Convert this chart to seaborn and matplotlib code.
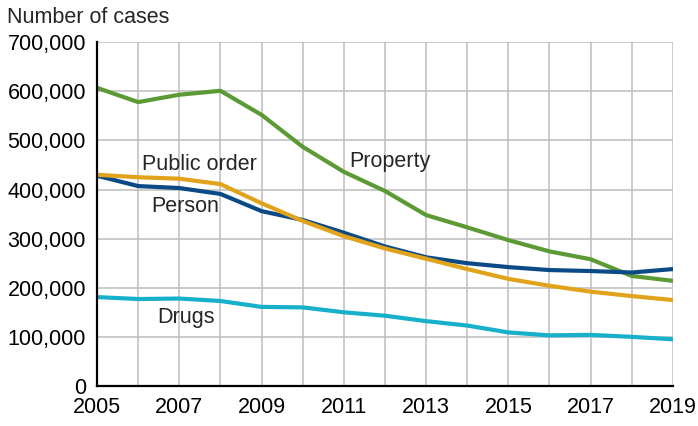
import numpy as np
import pandas as pd
import matplotlib
matplotlib.use("Agg")
import matplotlib.pyplot as plt
import seaborn as sns
from matplotlib.ticker import FuncFormatter

# data
years = list(range(2005, 2020))
property_cases = [607000, 578000, 593000, 601000, 552000, 487000, 436000, 397000,
                  348000, 323000, 297000, 274000, 258000, 224000, 214000]
person_cases = [428000, 407000, 403000, 391000, 356000, 338000, 312000, 284000,
                262000, 250000, 242000, 236000, 234000, 231000, 238000]
public_order_cases = [430000, 425000, 422000, 411000, 372000, 336000, 305000, 280000,
                      259000, 238000, 218000, 204000, 192000, 183000, 175000]
drugs_cases = [181000, 177000, 178000, 173000, 161000, 160000, 150000, 143000,
               132000, 123000, 109000, 103000, 104000, 100000, 95000]

df = pd.DataFrame({"year": years, "Property": property_cases, "Person": person_cases,
                   "Public order": public_order_cases, "Drugs": drugs_cases})
df = df.melt(id_vars="year", var_name="offence", value_name="cases")

colors = {"Property": "#5b9a34", "Person": "#0b4a86",
          "Public order": "#e1a31b", "Drugs": "#17b0cb"}

sns.set_style("white")
plt.rcParams["font.family"] = ["Liberation Sans", "DejaVu Sans"]

fig = plt.figure(figsize=(6.98, 4.26), dpi=100)
ax = fig.add_axes([0.139, 0.094, 0.825, 0.807])

sns.lineplot(data=df, x="year", y="cases", hue="offence", palette=colors,
             linewidth=3, legend=False, ax=ax)

ax.set_xlim(2005, 2019)
ax.set_ylim(0, 700000)
ax.set_xticks(range(2005, 2020))
ax.set_xticklabels([str(y) if (y - 2005) % 2 == 0 else "" for y in range(2005, 2020)])
ax.set_yticks(range(0, 700001, 100000))
ax.yaxis.set_major_formatter(FuncFormatter(lambda v, p: f"{int(v):,}"))
ax.grid(True, color="#bdbdbd", linewidth=1.1)
ax.set_axisbelow(True)
for s in ["top", "right"]:
    ax.spines[s].set_visible(False)
for s in ["left", "bottom"]:
    ax.spines[s].set_color("black")
    ax.spines[s].set_linewidth(1.6)
ax.tick_params(axis="both", direction="out", length=5, width=1.2, color="black",
               labelsize=15.5, labelcolor="black")
ax.tick_params(axis="x", pad=3)
ax.tick_params(axis="y", pad=3)
ax.set_xlabel("")
ax.set_ylabel("")

fig.text(0.01, 0.96, "Number of cases", fontsize=15.5, va="center", ha="left")

ax.text(2007.5, 450000, "Public order", fontsize=15.5, ha="center", va="center")
ax.text(2007.14, 365000, "Person", fontsize=15.5, ha="center", va="center")
ax.text(2012.12, 458000, "Property", fontsize=15.5, ha="center", va="center")
ax.text(2007.16, 140000, "Drugs", fontsize=15.5, ha="center", va="center")

fig.savefig("out.png", dpi=100)
